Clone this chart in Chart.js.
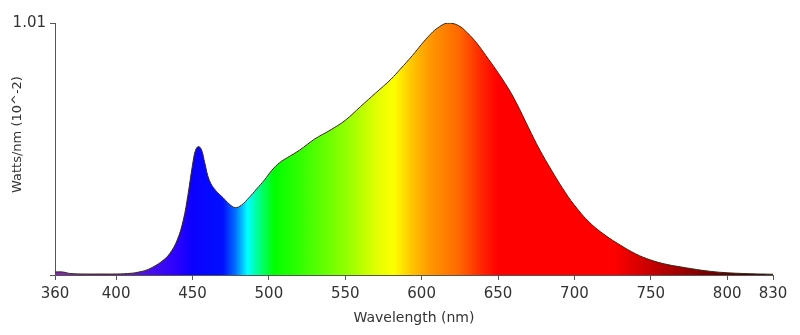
<!DOCTYPE html>
<html>
<head>
<meta charset="utf-8">
<script src="https://cdn.jsdelivr.net/npm/chart.js@4"></script>
<style>
  html, body { margin: 0; padding: 0; background: #fff; }
  #wrap { width: 800px; height: 335px; }
</style>
</head>
<body>
<div id="wrap"><canvas id="spectrum"></canvas></div>
<script>
// spectral power distribution
const wavelengths = [360, 365, 370, 380, 390, 400, 410, 415, 420, 425, 430, 435, 440, 444, 447, 450, 452, 454, 456, 458, 461, 465, 470, 474, 478, 482, 487, 492, 497, 502, 507, 512, 520, 530, 540, 550, 560, 570, 580, 586, 594, 600, 605, 610, 617, 624, 630, 636, 642, 649, 656, 662, 670, 677, 685, 692, 700, 710, 720, 730, 740, 750, 760, 770, 780, 790, 800, 815, 830];
const power = [0.012, 0.012, 0.006, 0.004, 0.004, 0.004, 0.007, 0.012, 0.02, 0.035, 0.055, 0.085, 0.14, 0.22, 0.32, 0.44, 0.5, 0.515, 0.5, 0.45, 0.38, 0.34, 0.31, 0.285, 0.27, 0.28, 0.31, 0.345, 0.38, 0.42, 0.45, 0.47, 0.5, 0.545, 0.58, 0.62, 0.675, 0.73, 0.785, 0.825, 0.88, 0.925, 0.96, 0.988, 1.01, 1.0, 0.97, 0.93, 0.88, 0.82, 0.755, 0.69, 0.59, 0.505, 0.42, 0.35, 0.28, 0.21, 0.16, 0.12, 0.085, 0.06, 0.043, 0.032, 0.022, 0.014, 0.009, 0.005, 0.003];

const xTicks = [360, 400, 450, 500, 550, 600, 650, 700, 750, 800, 830];
const yTicks = [0, 1.01];
const yTickLabels = ['', '1.01'];

// colour of the fill at each wavelength
const spectrumStops = [
    [360, '#7a2ca8'], [405, '#6a20c0'], [420, '#4a10e8'], [440, '#2a00ff'],
    [450, '#0a00ff'], [470, '#0010ff'], [478, '#0070ff'], [486, '#00ffff'],
    [493, '#00ff90'], [503, '#00ff00'], [520, '#30ff00'], [550, '#90ff00'],
    [570, '#e0ff00'], [582, '#ffff00'], [592, '#ffcc00'], [605, '#ff9900'],
    [625, '#ff6600'], [640, '#ff2200'], [650, '#ff0000'], [725, '#ff0000'],
    [760, '#b00000'], [800, '#600000'], [830, '#300000']
];

const textColor = '#333';
const axisColor = '#555';

function spectrumFill(context) {
    const chart = context.chart;
    const area = chart.chartArea;
    if (!area) return null;
    const xs = chart.scales.x;
    const g = chart.ctx.createLinearGradient(area.left, 0, area.right, 0);
    spectrumStops.forEach(([nm, col]) => {
        const t = (xs.getPixelForValue(nm) - area.left) / area.width;
        g.addColorStop(Math.min(1, Math.max(0, t)), col);
    });
    return g;
}

new Chart(document.getElementById('spectrum').getContext('2d'), {
    type: 'line',
    data: {
        datasets: [{
            data: wavelengths.map((w, i) => ({ x: w, y: power[i] })),
            borderColor: '#3a2818',
            borderWidth: 1,
            backgroundColor: spectrumFill,
            fill: 'origin',
            pointRadius: 0,
            tension: 0.4
        }]
    },
    options: {
        responsive: true,
        maintainAspectRatio: false,
        animation: false,
        layout: { padding: { left: 0, right: 27, top: 23, bottom: 8 } },
        plugins: {
            legend: { display: false },
            tooltip: { enabled: false }
        },
        scales: {
            x: {
                type: 'linear',
                min: 360,
                max: 830,
                afterBuildTicks: s => { s.ticks = xTicks.map(v => ({ value: v })); },
                afterFit: s => { s.height = 52; },
                grid: { drawOnChartArea: false, drawTicks: true, tickLength: 5, color: axisColor },
                border: { display: true, color: axisColor, width: 1 },
                ticks: {
                    autoSkip: false,
                    maxRotation: 0,
                    padding: 5,
                    color: textColor,
                    font: { family: 'DejaVu Sans', size: 15 }
                },
                title: {
                    display: true,
                    text: 'Wavelength (nm)',
                    color: textColor,
                    padding: 0,
                    font: { family: 'DejaVu Sans', size: 14 }
                }
            },
            y: {
                min: 0,
                max: 1.01,
                afterBuildTicks: s => { s.ticks = yTicks.map(v => ({ value: v })); },
                afterFit: s => { s.width = 55; },
                grid: { drawOnChartArea: false, drawTicks: true, tickLength: 5, color: axisColor },
                border: { display: true, color: axisColor, width: 1 },
                ticks: {
                    padding: 4,
                    color: textColor,
                    font: { family: 'DejaVu Sans', size: 15 },
                    callback: (v, i) => yTickLabels[i]
                },
                title: {
                    display: true,
                    // leading spaces lift the label a little above the axis centre, as in the original
                    text: '       Watts/nm (10^-2)',
                    color: textColor,
                    padding: 10,
                    font: { family: 'DejaVu Sans', size: 13 }
                }
            }
        }
    }
});
</script>
</body>
</html>
